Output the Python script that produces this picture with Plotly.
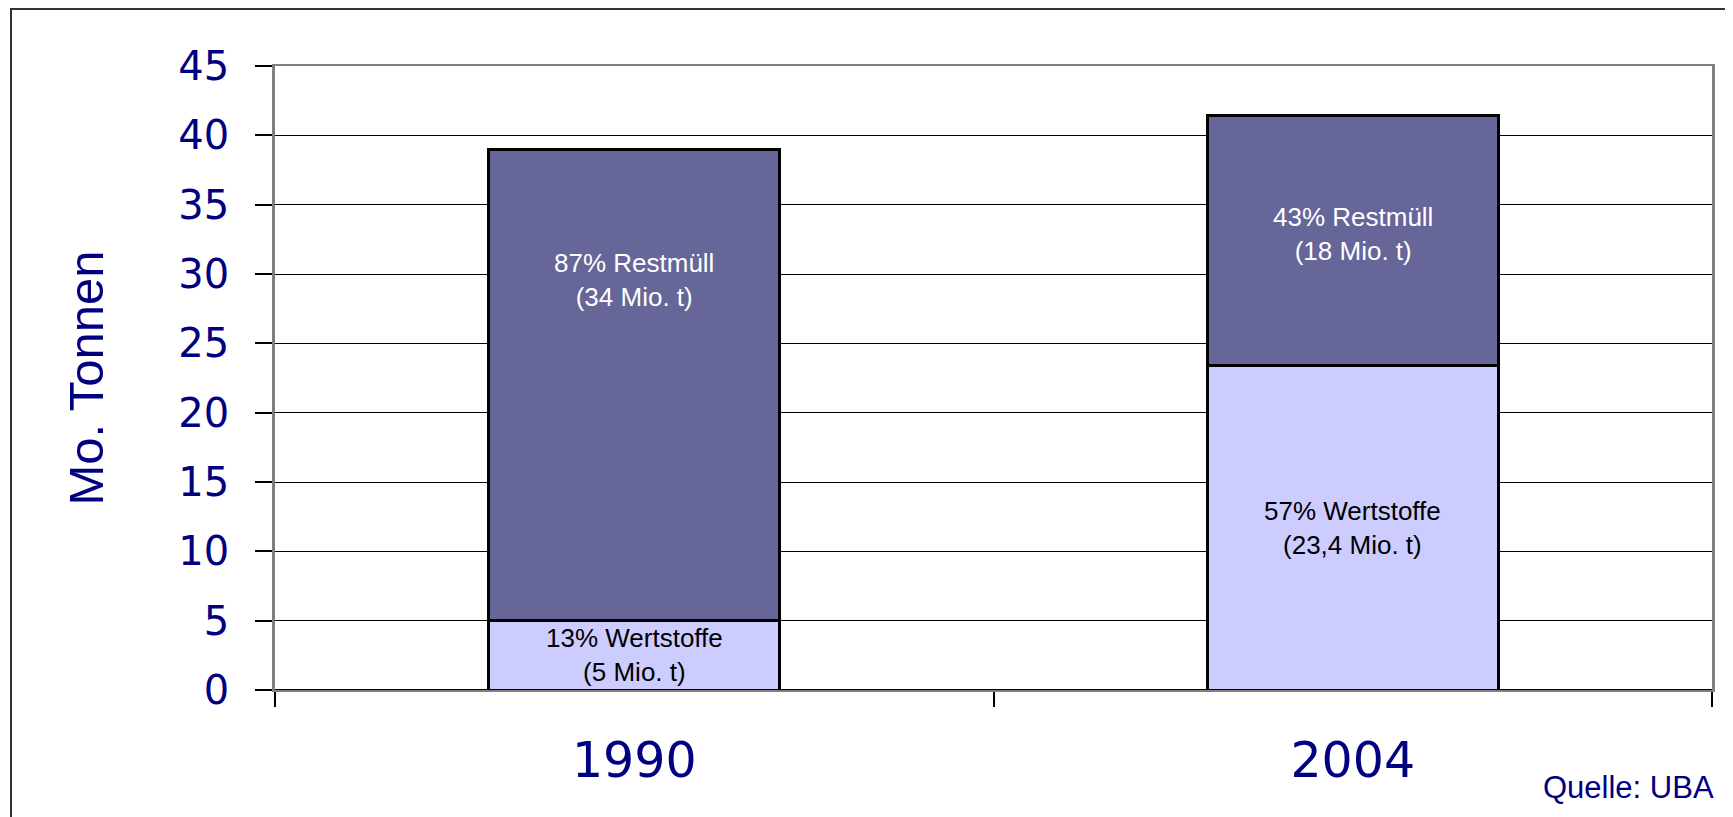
import plotly.graph_objects as go

# Data
years = ['1990', '2004']
wertstoffe = [5, 23.4]
restmuell = [34, 18]
wertstoffe_labels = ['13% Wertstoffe<br>(5 Mio. t)', '57% Wertstoffe<br>(23,4 Mio. t)']
restmuell_labels = ['87% Restmüll<br>(34 Mio. t)', '43% Restmüll<br>(18 Mio. t)']
restmuell_label_y = [29.6, 32.9]  # where the label sits in each Restmüll segment
y_ticks = [0, 5, 10, 15, 20, 25, 30, 35, 40, 45]

navy = '#000080'
# the page body adds an 8px offset, so the figure is a bit smaller than the window
W, H = 1725, 809
L, R, T, B = 267, 21, 58, 127
pw, ph = W - L - R, H - T - B

fig = go.Figure()

fig.add_trace(go.Bar(
    x=years, y=wertstoffe, name='Wertstoffe',
    marker=dict(color='#CCCCFF', line=dict(color='black', width=3)),
    width=0.405,
))
fig.add_trace(go.Bar(
    x=years, y=restmuell, name='Restmüll',
    marker=dict(color='#666699', line=dict(color='black', width=3)),
    width=0.405,
))

# segment labels (category axis -> use the category index)
for i, yr in enumerate(years):
    fig.add_annotation(x=i, y=wertstoffe[i] / 2, text=wertstoffe_labels[i], showarrow=False,
                       font=dict(family='Liberation Sans, Arial', size=26, color='black'))
    fig.add_annotation(x=i, y=restmuell_label_y[i], text=restmuell_labels[i], showarrow=False,
                       font=dict(family='Liberation Sans, Arial', size=26, color='white'))

fig.add_annotation(xref='paper', yref='paper', x=(1708 - L) / pw, y=(682 - 799) / ph,
                   xanchor='right', yanchor='bottom', text='Quelle: UBA', showarrow=False,
                   font=dict(family='Liberation Sans, Arial', size=31, color=navy))

# outer frame of the picture
fig.add_shape(type='rect', xref='paper', yref='paper',
              x0=(3 - L) / pw, x1=(1760 - L) / pw, y0=(682 - 860) / ph, y1=(682 - 1) / ph,
              line=dict(color='#333333', width=2), fillcolor='rgba(0,0,0,0)', layer='below')

fig.update_layout(
    width=W, height=H,
    barmode='stack', bargap=0.595,
    showlegend=False,
    plot_bgcolor='white', paper_bgcolor='white',
    margin=dict(l=L, r=R, t=T, b=B, autoexpand=False),
    font=dict(family='DejaVu Sans', color=navy),
    xaxis=dict(
        type='category', tickson='boundaries',
        ticks='outside', ticklen=15, tickcolor='black', tickwidth=1.5,
        tickfont=dict(family='DejaVu Sans', size=49, color=navy),
        ticklabelstandoff=26, tickangle=0,
        showline=True, linecolor='#808080', linewidth=2, mirror=True,
        showgrid=False,
    ),
    yaxis=dict(
        range=[0, 45], tickvals=y_ticks,
        ticks='outside', ticklen=17, tickcolor='black', tickwidth=1.5,
        tickfont=dict(family='DejaVu Sans', size=40, color=navy),
        ticklabelstandoff=18,
        showgrid=True, gridcolor='black', gridwidth=1,
        zeroline=True, zerolinecolor='black', zerolinewidth=2,
        showline=True, linecolor='#808080', linewidth=2.5, mirror=True,
        title=dict(text='Mo. Tonnen', standoff=60,
                   font=dict(family='Liberation Sans, Arial', size=49, color=navy)),
    ),
)

fig.write_html('out.html')
